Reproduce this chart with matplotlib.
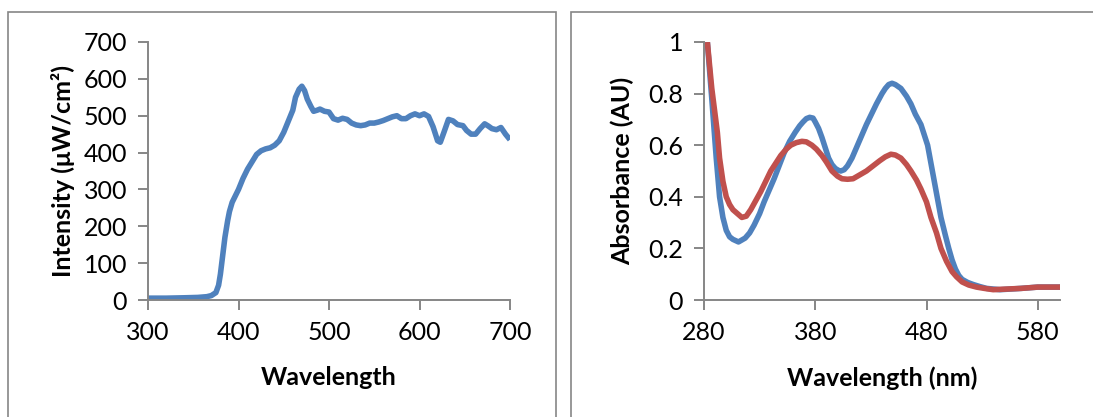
import matplotlib
matplotlib.use("Agg")
import matplotlib.pyplot as plt
from matplotlib.patches import Rectangle
from matplotlib.ticker import FuncFormatter

plt.rcParams['font.family'] = ['Lato', 'DejaVu Sans']

# left panel: lamp spectrum
lamp_wl = [300, 320, 340, 355, 365, 370, 375, 378, 380, 383, 385, 388, 390, 393, 395, 400,
           405, 410, 415, 420, 425, 430, 435, 440, 445, 450, 455, 460, 463, 467, 470, 473,
           476, 480, 483, 487, 490, 495, 500, 505, 510, 515, 520, 525, 530, 535, 540, 545,
           550, 555, 560, 565, 570, 575, 580, 585, 590, 595, 600, 605, 610, 615, 620, 623,
           627, 632, 637, 642, 648, 652, 657, 662, 667, 672, 676, 680, 685, 690, 695, 700]
lamp_int = [5, 5, 6, 7, 9, 12, 20, 40, 70, 130, 170, 215, 240, 265, 275, 300,
            330, 355, 375, 395, 405, 410, 413, 420, 432, 455, 485, 515, 550, 572, 580, 568,
            545, 525, 512, 515, 518, 512, 510, 492, 488, 493, 490, 480, 475, 473, 475, 480,
            480, 483, 487, 492, 497, 500, 492, 492, 500, 505, 500, 505, 498, 470, 432, 428,
            455, 490, 486, 476, 473, 460, 450, 450, 465, 478, 472, 465, 462, 468, 450, 435]

# right panel: absorbance spectra
abs_wl = [283, 287, 291, 294, 297, 300, 303, 306, 311, 317, 321, 325, 330, 334, 343, 352,
          357, 362, 366, 369, 372, 375, 378, 380, 383, 386, 389, 392, 395, 398, 401, 403,
          406, 409, 413, 417, 426, 435, 440, 443, 446, 449, 452, 457, 462, 466, 470, 475,
          478, 481, 484, 487, 490, 493, 497, 500, 503, 506, 509, 512, 517, 522, 528, 534,
          546, 565, 580, 600]
abs_blue = [1.0, 0.78, 0.55, 0.40, 0.32, 0.27, 0.245, 0.235, 0.225, 0.24, 0.26, 0.29, 0.335, 0.38, 0.47, 0.57,
            0.615, 0.65, 0.675, 0.69, 0.703, 0.708, 0.705, 0.69, 0.665, 0.63, 0.59, 0.55, 0.525, 0.51, 0.502, 0.50,
            0.505, 0.52, 0.55, 0.59, 0.68, 0.76, 0.80, 0.82, 0.835, 0.84, 0.835, 0.82, 0.79, 0.76, 0.72, 0.68,
            0.64, 0.60, 0.53, 0.46, 0.39, 0.32, 0.25, 0.20, 0.155, 0.12, 0.095, 0.08, 0.068, 0.06, 0.052, 0.045,
            0.04, 0.045, 0.05, 0.05]
red_wl = [283, 287, 292, 294, 297, 300, 303, 306, 310, 314, 318, 322, 331, 340, 349, 354,
          358, 363, 368, 372, 377, 381, 386, 390, 395, 400, 404, 409, 414, 420, 426, 432,
          438, 443, 448, 452, 457, 462, 466, 471, 475, 480, 484, 489, 493, 498, 503, 507,
          512, 518, 525, 532, 540, 565, 580, 600]
abs_red = [1.0, 0.82, 0.65, 0.55, 0.46, 0.40, 0.37, 0.35, 0.335, 0.32, 0.325, 0.35, 0.42, 0.50, 0.56, 0.585,
           0.60, 0.61, 0.615, 0.613, 0.60, 0.585, 0.56, 0.535, 0.50, 0.48, 0.47, 0.468, 0.47, 0.485, 0.50, 0.52,
           0.54, 0.555, 0.565, 0.562, 0.55, 0.525, 0.50, 0.465, 0.43, 0.38, 0.32, 0.26, 0.20, 0.15, 0.11, 0.09,
           0.07, 0.058, 0.05, 0.045, 0.04, 0.045, 0.05, 0.05]

blue = '#4F81BD'
red = '#C0504D'
gray = '#868686'

fig = plt.figure(figsize=(10.93, 4.17), dpi=100)

# panel frames
fig.patches.append(Rectangle((8 / 1093, -0.1), 548 / 1093, 1.1 - 12 / 417, transform=fig.transFigure,
                             fill=False, edgecolor=gray, linewidth=1.2))
fig.patches.append(Rectangle((571 / 1093, -0.1), 0.6, 1.1 - 12 / 417, transform=fig.transFigure,
                             fill=False, edgecolor=gray, linewidth=1.2))

ax1 = fig.add_axes([148 / 1093, 1 - 300 / 417, 362 / 1093, 258 / 417])
ax2 = fig.add_axes([704 / 1093, 1 - 300 / 417, 356 / 1093, 258 / 417])


def style(ax):
    for s in ['top', 'right']:
        ax.spines[s].set_visible(False)
    for s in ['left', 'bottom']:
        ax.spines[s].set_color(gray)
        ax.spines[s].set_linewidth(1.4)
    ax.tick_params(direction='out', length=7, width=1.4, color=gray, labelsize=18, pad=8)


ax1.plot(lamp_wl, lamp_int, color=blue, linewidth=4, solid_capstyle='butt', solid_joinstyle='round')
ax1.set_xlim(300, 700)
ax1.set_ylim(0, 700)
ax1.set_xticks(range(300, 701, 100))
ax1.set_yticks(range(0, 701, 100))
ax1.set_xlabel('Wavelength', fontsize=18, fontweight='bold', labelpad=16)
ax1.set_ylabel('Intensity (μW/cm²)', fontsize=18, fontweight='bold', labelpad=6)
style(ax1)

ax2.plot(abs_wl, abs_blue, color=blue, linewidth=4, solid_capstyle='butt', solid_joinstyle='round')
ax2.plot(red_wl, abs_red, color=red, linewidth=4, solid_capstyle='butt', solid_joinstyle='round')
ax2.set_xlim(280, 600)
ax2.set_ylim(0, 1)
ax2.set_xticks(range(280, 581, 100))
ax2.set_yticks([0, 0.2, 0.4, 0.6, 0.8, 1])
ax2.yaxis.set_major_formatter(FuncFormatter(lambda v, p: '%g' % v))
ax2.set_xlabel('Wavelength (nm)', fontsize=18, fontweight='bold', labelpad=16)
ax2.set_ylabel('Absorbance (AU)', fontsize=18, fontweight='bold', labelpad=10)
style(ax2)

fig.savefig('out.png', dpi=100)
